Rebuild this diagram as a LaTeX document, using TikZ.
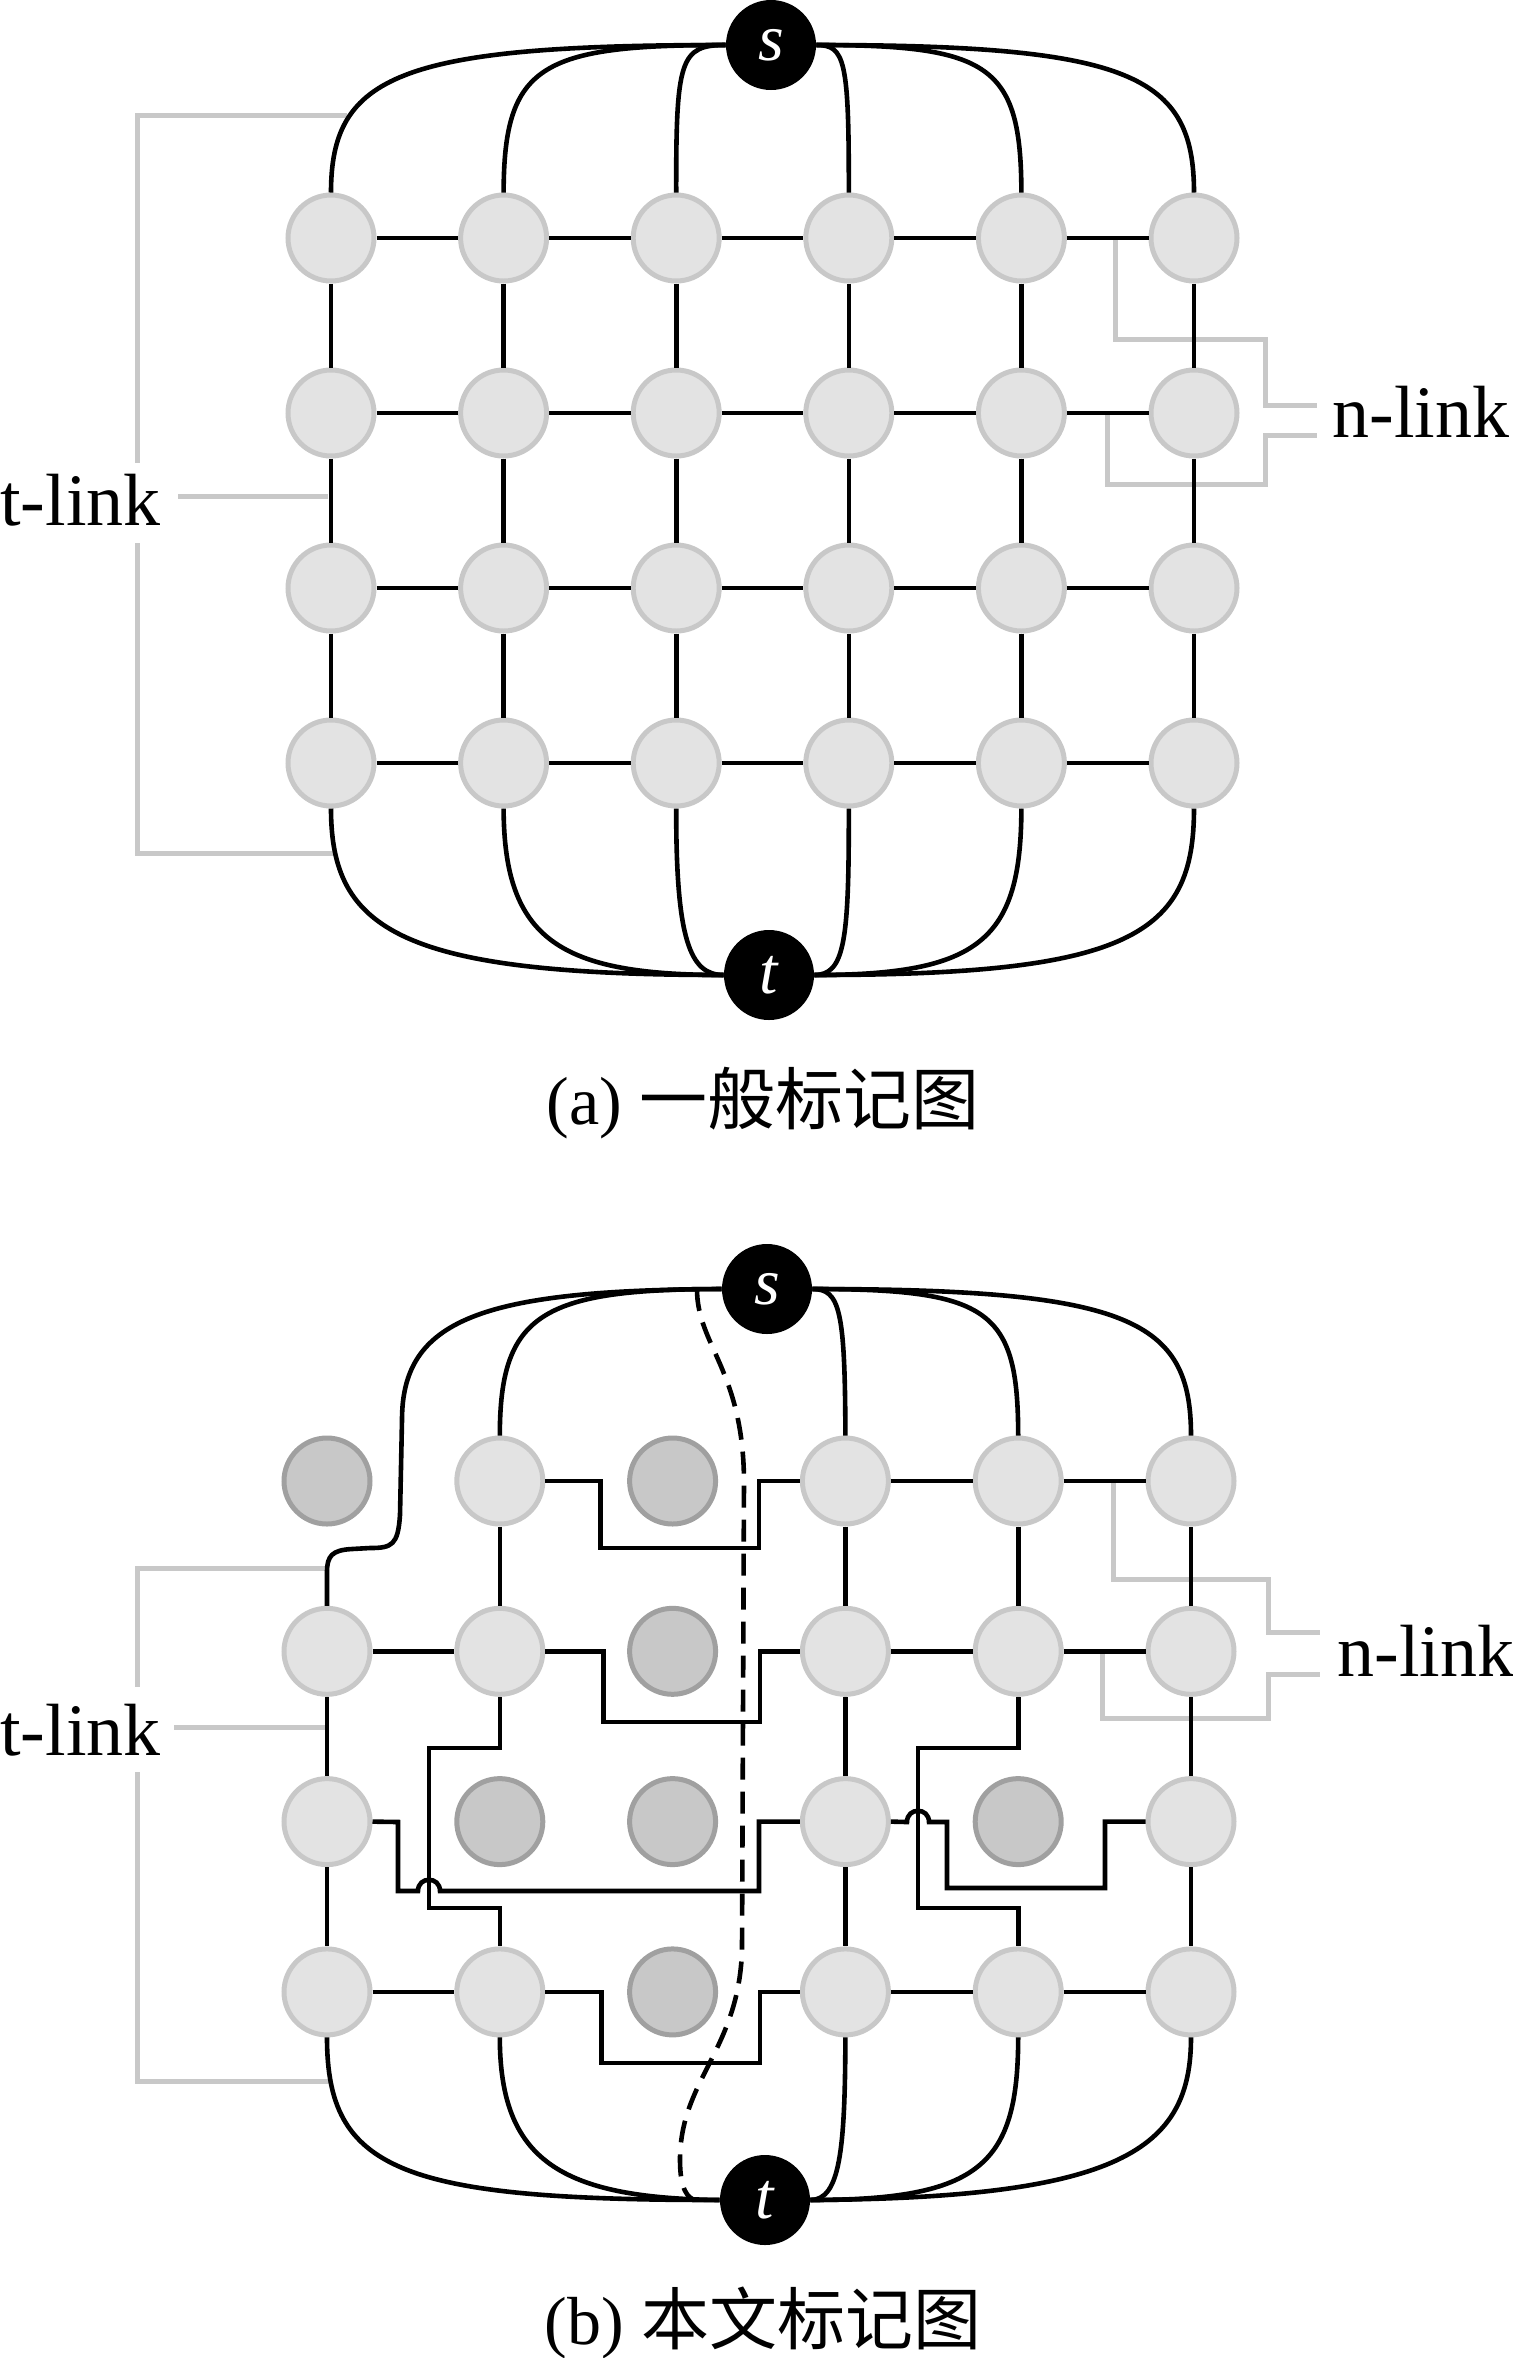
\documentclass[tikz,border=0pt]{standalone}
\usepackage{fontspec}
\setmainfont{Liberation Serif}
\newfontfamily\cjk{Noto Sans CJK SC}

\begin{document}
\begin{tikzpicture}[x=0.5pt, y=-0.5pt,
    pixel/.style={circle, minimum size=43pt, inner sep=0pt, line width=2.5pt, draw=borderColour, fill=fillColour},
    darkpixel/.style={pixel, draw=darkBorder, fill=darkFill},
    terminal/.style={circle, minimum size=45pt, inner sep=0pt, fill=black, text=white, font=\fontsize{33}{33}\selectfont\itshape},
    link/.style={line width=2.3pt, black},
    bracket/.style={line width=2.5pt, bracketColour},
    label/.style={inner sep=0pt, font=\fontsize{37}{40}\selectfont},
    caption/.style={inner sep=0pt, anchor=base, font=\fontsize{34}{36}\selectfont}]

    \definecolor{borderColour}{HTML}{C8C8C8}
    \definecolor{fillColour}{HTML}{E3E3E3}
    \definecolor{darkBorder}{HTML}{A0A0A0}
    \definecolor{darkFill}{HTML}{C8C8C8}
    \definecolor{bracketColour}{HTML}{C8C8C8}

    \useasboundingbox (0,0) rectangle (1513,2358);

    % ---------- (a) ----------
    % Brackets
    \draw[bracket] (347,115) -- (137,115) -- (137,463);
    \draw[bracket] (137,543) -- (137,853) -- (333,853);
    \draw[bracket] (178,496) -- (328,496);
    \draw[bracket] (1115,240) -- (1115,339) -- (1265,339) -- (1265,405) -- (1317,405);
    \draw[bracket] (1107,413) -- (1107,484) -- (1265,484) -- (1265,435) -- (1317,435);
    \node[label, anchor=base west] (tlinkA) at (0,525) {t-link};
    \node[label, anchor=base west] (nlinkA) at (1332,437) {n-link};

    % Pixels
    \foreach \r in {1,...,4}
        \foreach \c in {1,...,6}
            \node[pixel] (a\r\c) at ({331+172.6*(\c-1)},{238+175*(\r-1)}) {};
    \node[terminal] (sA) at (771,45) {s};
    \node[terminal] (tA) at (769,975) {t};

    % n-links
    \foreach \r in {1,...,4}
        \foreach \c/\d in {1/2,2/3,3/4,4/5,5/6}
            \draw[link] (a\r\c) -- (a\r\d);
    \foreach \r/\q in {1/2,2/3,3/4}
        \foreach \c in {1,...,6}
            \draw[link] (a\r\c) -- (a\q\c);

    % t-links
    \draw[link] (sA.west) .. controls (400,45) and (331,75) .. (a11.north);
    \draw[link] (sA.west) .. controls (540,45) and (504,65) .. (a12.north);
    \draw[link] (sA.west) .. controls (680,45) and (676,60) .. (a13.north);
    \draw[link] (sA.east) .. controls (845,45) and (849,60) .. (a14.north);
    \draw[link] (sA.east) .. controls (990,45) and (1021,65) .. (a15.north);
    \draw[link] (sA.east) .. controls (1130,45) and (1194,75) .. (a16.north);
    \draw[link] (a41.south) .. controls (331,930) and (400,975) .. (tA.west);
    \draw[link] (a42.south) .. controls (504,940) and (560,975) .. (tA.west);
    \draw[link] (a43.south) .. controls (676,940) and (690,975) .. (tA.west);
    \draw[link] (a44.south) .. controls (849,940) and (845,975) .. (tA.east);
    \draw[link] (a45.south) .. controls (1021,940) and (980,975) .. (tA.east);
    \draw[link] (a46.south) .. controls (1194,935) and (1130,975) .. (tA.east);

    \node[caption] (capA) at (763,1124) {(a) {\cjk 一般标记图}};

    % ---------- (b) ----------
    % Brackets
    \draw[bracket] (328,1568) -- (137,1568) -- (137,1687);
    \draw[bracket] (137,1772) -- (137,2081) -- (331,2081);
    \draw[bracket] (174,1727) -- (327,1727);
    \draw[bracket] (1113,1481) -- (1113,1579) -- (1268,1579) -- (1268,1632) -- (1320,1632);
    \draw[bracket] (1102,1651) -- (1102,1718) -- (1268,1718) -- (1268,1674) -- (1320,1674);
    \node[label, anchor=base west] (tlinkB) at (0,1755) {t-link};
    \node[label, anchor=base west] (nlinkB) at (1337,1676) {n-link};

    % Pixels
    \foreach \r/\c in {1/2,1/4,1/5,1/6,2/1,2/2,2/4,2/5,2/6,3/1,3/4,3/6,4/1,4/2,4/4,4/5,4/6}
        \node[pixel] (b\r\c) at ({327+172.8*(\c-1)},{1481+170.3*(\r-1)}) {};
    \foreach \r/\c in {1/1,1/3,2/3,3/2,3/3,3/5,4/3}
        \node[darkpixel] (b\r\c) at ({327+172.8*(\c-1)},{1481+170.3*(\r-1)}) {};
    \node[terminal] (sB) at (767,1289) {s};
    \node[terminal] (tB) at (765,2200) {t};

    % n-links
    \foreach \u/\v in {14/15,15/16,21/22,24/25,25/26,41/42,44/45,45/46,
                       12/22,21/31,31/41,14/24,24/34,34/44,15/25,16/26,26/36,36/46}
        \draw[link] (b\u) -- (b\v);
    \draw[link] (b12.east) -- ++(55,0) |- (759,1548) |- (b14.west);
    \draw[link] (b22.east) -- ++(58,0) |- (760,1722) |- (b24.west);
    \draw[link] (b42.east) -- ++(56,0) |- (760,2063) |- (b44.west);
    \draw[link] (b22.south) |- (429,1748) -- (429,1908) -| (b42.north);
    \draw[link] (b25.south) |- (918,1748) -- (918,1908) -| (b45.north);
    \draw[link] (b31.east) -- (398,1822) -- (398,1891) -- (418,1891)
        .. controls (418,1876) and (440,1876) .. (440,1891) -- (759,1891) |- (b34.west);
    \draw[link] (b34.east) -- (907,1822) .. controls (907,1807) and (929,1807) .. (929,1822)
        -- (947,1822) |- (1105,1888) |- (b36.west);

    % t-links
    \draw[link] (sB.west) .. controls (480,1290) and (402,1320) .. (402,1420) -- (400,1515)
        .. controls (398,1545) and (392,1548) .. (370,1548) -- (352,1549)
        .. controls (332,1550) and (327,1556) .. (327,1572) -- (b21.north);
    \draw[link] (sB.west) .. controls (540,1289) and (500,1315) .. (b12.north);
    \draw[link] (sB.east) .. controls (840,1289) and (845,1310) .. (b14.north);
    \draw[link] (sB.east) .. controls (990,1289) and (1018,1310) .. (b15.north);
    \draw[link] (sB.east) .. controls (1130,1289) and (1191,1320) .. (b16.north);
    \draw[link] (b41.south) .. controls (327,2170) and (400,2200) .. (tB.west);
    \draw[link] (b42.south) .. controls (500,2160) and (560,2198) .. (tB.west);
    \draw[link] (b44.south) .. controls (845,2150) and (840,2200) .. (tB.east);
    \draw[link] (b45.south) .. controls (1018,2165) and (980,2200) .. (tB.east);
    \draw[link] (b46.south) .. controls (1191,2150) and (1120,2198) .. (tB.east);

    % Cut
    \coordinate (cutTop) at (697,1289);
    \coordinate (cutBot) at (695,2200);
    \draw[link, dash pattern=on 11pt off 6pt] (cutTop) .. controls (697,1345) and (743,1370) .. (744,1480)
        -- (742,1950) .. controls (739,2050) and (680,2080) .. (680,2160)
        .. controls (680,2190) and (688,2198) .. (cutBot);

    \node[caption] (capB) at (763,2344) {(b) {\cjk 本文标记图}};
\end{tikzpicture}
\end{document}
